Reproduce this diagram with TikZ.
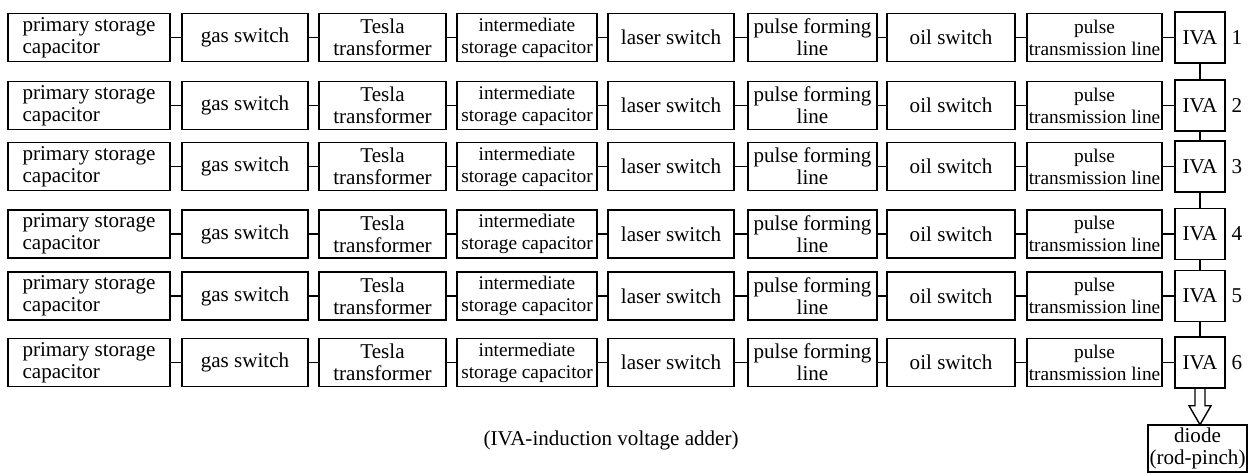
\documentclass[tikz,border=0pt]{standalone}
\usepackage{fontspec}
\setmainfont{Liberation Serif}
\begin{document}
\begin{tikzpicture}[x=0.02cm, y=-0.02cm, line width=0.8pt,
  txt/.style={font=\rmfamily\fontsize{12}{12.5}\selectfont},
  blk/.style={draw, txt, inner sep=0pt, minimum height=0.96cm, align=center},
  smalltext/.style={font=\rmfamily\fontsize{11}{12.5}\selectfont},
  iva/.style={blk, minimum width=1cm, minimum height=1.02cm}]

  \useasboundingbox (0,0) rectangle (1248,474);

  % Six charging chains, one per IVA stage
  \foreach \r/\y in {1/37.5, 2/105.5, 3/166.5, 4/234, 5/296, 6/362.5}{
    \node[blk, minimum width=3.24cm, align=left] (psc\r) at (89,\y) {primary storage\\capacitor};
    \node[blk, minimum width=2.52cm] (gs\r)  at (245,\y)    {gas switch};
    \node[blk, minimum width=2.54cm] (tt\r)  at (382.5,\y)  {Tesla\\transformer};
    \node[blk, smalltext, minimum width=2.8cm] (isc\r) at (527,\y) {intermediate\\storage capacitor};
    \node[blk, minimum width=2.52cm] (ls\r)  at (671,\y)    {laser switch};
    \node[blk, minimum width=2.58cm] (pfl\r) at (812.5,\y)  {pulse forming\\line};
    \node[blk, minimum width=2.56cm] (os\r)  at (951,\y)    {oil switch};
    \node[blk, smalltext, minimum width=2.7cm] (ptl\r) at (1094.5,\y) {pulse\\transmission line};
    \node[iva] (iva\r) at (1200,\y) {IVA};
    \node[txt] (num\r) at (1237,\y) {\r};

    \draw (psc\r) -- (gs\r) -- (tt\r) -- (isc\r) -- (ls\r) -- (pfl\r) -- (os\r) -- (ptl\r) -- (iva\r);
  }

  % IVA stack
  \foreach \a/\b in {1/2, 2/3, 3/4, 4/5, 5/6}
    \draw (iva\a) -- (iva\b);

  % Load
  \node[blk, minimum width=1.98cm, minimum height=0.94cm] (diode) at (1197.5,448.5) {diode\\(rod-pinch)};

  % Hollow arrow to the load
  \draw ([xshift=-0.1cm]iva6.south) -- ++(0,17) -- ++(-6,0) -- ++(11,19)
    -- ++(11,-19) -- ++(-6,0) -- ++(0,-17);

  % Note
  \node[txt, anchor=west, inner sep=0pt] (note) at (483,440)
    {(IVA-induction voltage adder)};

\end{tikzpicture}
\end{document}
